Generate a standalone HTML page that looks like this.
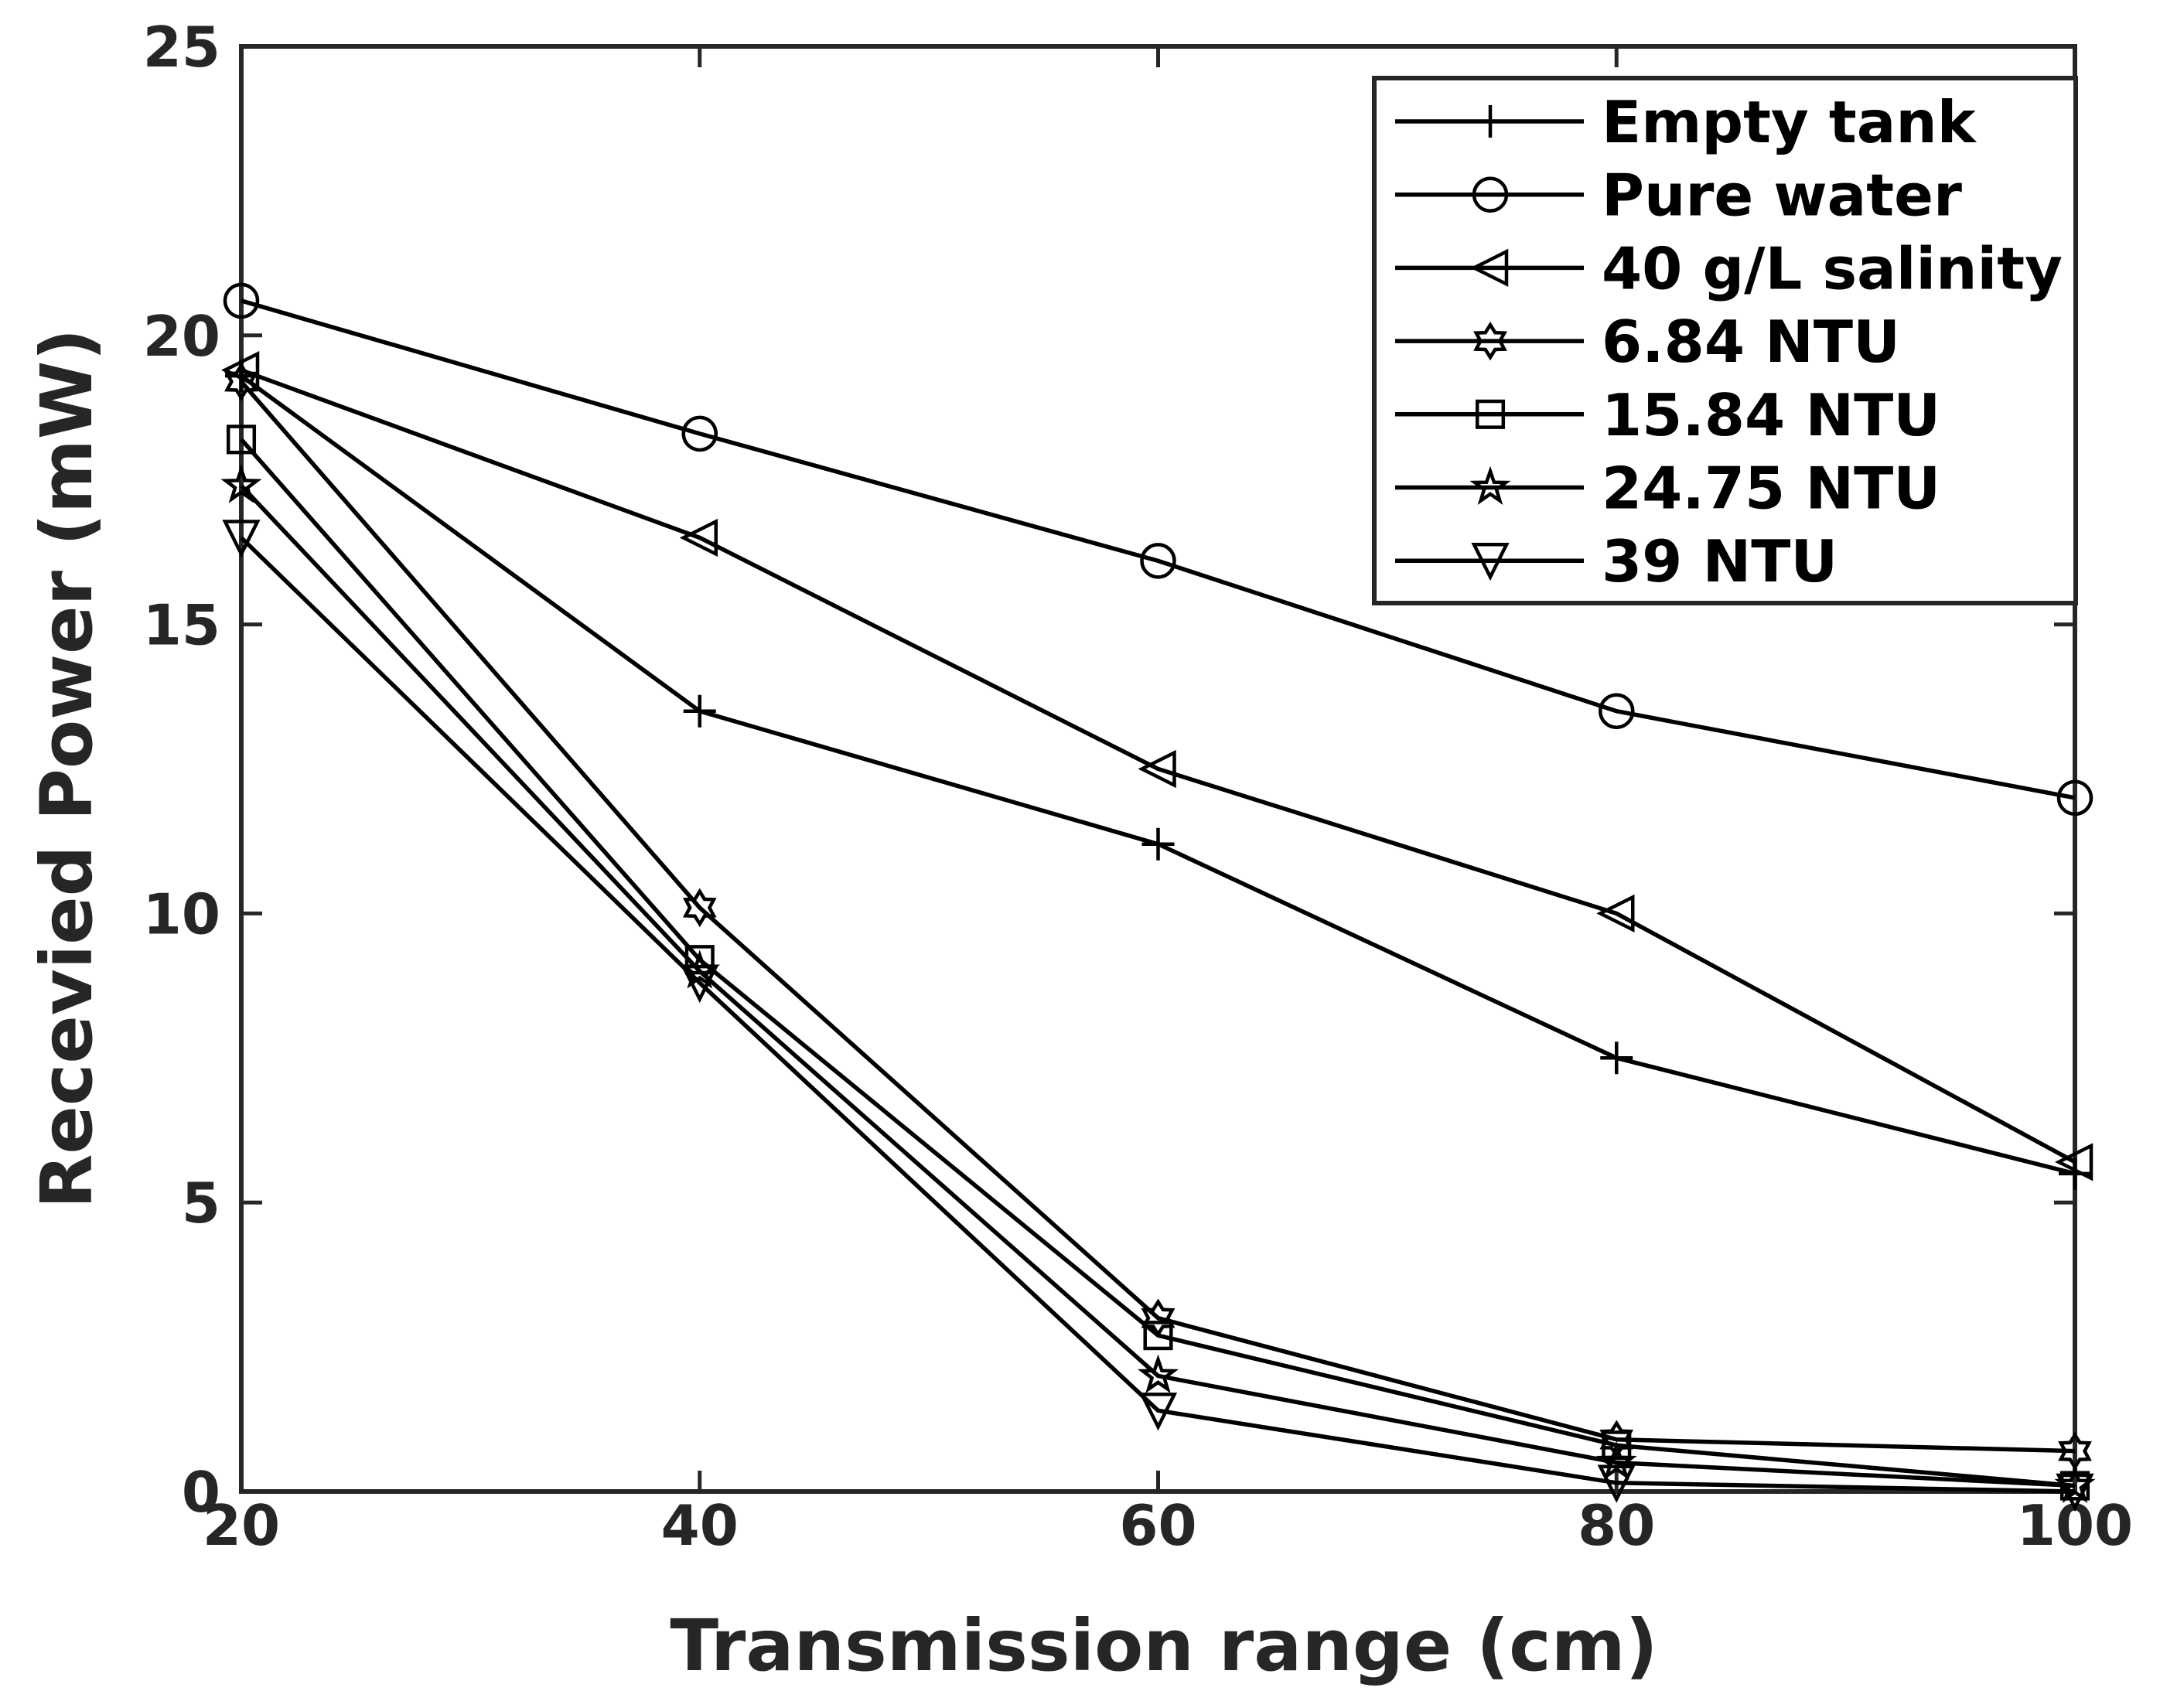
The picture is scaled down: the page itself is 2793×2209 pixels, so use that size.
<!DOCTYPE html>
<html><head><meta charset="utf-8"><style>
html,body{margin:0;padding:0;background:#fff}
svg text{font-family:"DejaVu Sans","Liberation Sans",sans-serif;font-weight:bold;fill:#262626}
</style></head><body>
<svg id="chart" xmlns="http://www.w3.org/2000/svg" width="2793" height="2204" viewBox="0 0 2793 2204">
<rect width="2793" height="2204" fill="#fff"/>
<g id="plot"></g>
</svg>
<script>
const xCats=[20,40,60,80,100];
const xTicks=[20,40,60,80,100];
const yTicks=[0,5,10,15,20,25];
const emptyTank=[19.3,13.5,11.2,7.5,5.5];
const pureWater=[20.6,18.3,16.1,13.5,12.0];
const salinity40=[19.4,16.5,12.5,10.0,5.7];
const ntu684=[19.2,10.1,3.0,0.9,0.7];
const ntu1584=[18.2,9.2,2.7,0.8,0.1];
const ntu2475=[17.4,9.0,2.0,0.5,0.1];
const ntu39=[16.5,8.8,1.4,0.15,0.0];
const seriesNames=["Empty tank","Pure water","40 g/L salinity","6.84 NTU","15.84 NTU","24.75 NTU","39 NTU"];
const seriesVals=[emptyTank,pureWater,salinity40,ntu684,ntu1584,ntu2475,ntu39];
const markers=["plus","circle","triLeft","hexStar","square","star","triDown"];

const L=312,R=2683,T=60,B=1929;
const xs=v=>L+(v-20)/(100-20)*(R-L);
const ys=v=>B-(v-0)/(25-0)*(B-T);
const NS="http://www.w3.org/2000/svg";
const g=document.getElementById('plot');
function mk(tag,attrs,parent){const e=document.createElementNS(NS,tag);for(const k in attrs)e.setAttribute(k,attrs[k]);(parent||g).appendChild(e);return e;}

function marker(type,x,y,parent){
  const s=21;let e;
  const st={fill:"none",stroke:"#000","stroke-width":4.5};
  if(type==="plus"){e=mk('path',Object.assign({d:`M${x-s} ${y}H${x+s}M${x} ${y-s}V${y+s}`},st),parent);}
  else if(type==="circle"){e=mk('circle',Object.assign({cx:x,cy:y,r:s},st),parent);}
  else if(type==="triLeft"){e=mk('path',Object.assign({d:`M${x-s} ${y}L${x+s} ${y-s}L${x+s} ${y+s}Z`},st),parent);}
  else if(type==="triDown"){e=mk('path',Object.assign({d:`M${x-s} ${y-s}L${x+s} ${y-s}L${x} ${y+s}Z`},st),parent);}
  else if(type==="square"){e=mk('rect',Object.assign({x:x-s*0.8,y:y-s*0.8,width:s*1.6,height:s*1.6},st),parent);}
  else {const n=type==="star"?5:6;const ro=s,ri=type==="star"?s*0.4:s*0.6;let d="";
    for(let i=0;i<2*n;i++){const r=i%2?ri:ro;const a=-Math.PI/2+i*Math.PI/n;d+=(i?"L":"M")+(x+r*Math.cos(a)).toFixed(1)+" "+(y+r*Math.sin(a)).toFixed(1);}
    e=mk('path',Object.assign({d:d+"Z"},st),parent);}
  return e;
}

const box=mk('rect',{x:L,y:T,width:R-L,height:B-T,fill:"none",stroke:"#262626","stroke-width":6});


xTicks.forEach(v=>{
  const t=mk('path',{d:`M${xs(v)} ${B}V${B-27}M${xs(v)} ${T}V${T+27}`,stroke:"#262626","stroke-width":5});
  
  
  const lb=mk('text',{x:xs(v),y:1998,"text-anchor":"middle","font-size":72});
  lb.textContent=v;
  
  
});
yTicks.forEach(v=>{
  const t=mk('path',{d:`M${L} ${ys(v)}H${L+27}M${R} ${ys(v)}H${R-27}`,stroke:"#262626","stroke-width":5});
  
  
  const lb=mk('text',{x:285,y:ys(v)+26,"text-anchor":"end","font-size":72});
  lb.textContent=v;
  
  
});
const xt=mk('text',{x:1505,y:2160,"text-anchor":"middle","font-size":92});
xt.textContent="Transmission range (cm)";


const yt=mk('text',{x:0,y:0,"text-anchor":"middle","font-size":92,transform:"translate(118 994) rotate(-90)"});
yt.textContent="Recevied Power (mW)";



seriesVals.forEach((vals,i)=>{
  const sg=mk('g',{});
  
  
  const pts=vals.map((v,j)=>xs(xCats[j])+","+ys(v)).join(" ");
  const pl=mk('polyline',{points:pts,fill:"none",stroke:"#000","stroke-width":5.5},sg);
  
  
  vals.forEach((v,j)=>{
    const m=marker(markers[i],xs(xCats[j]),ys(v),sg);
    
    
  });
});

const lg=mk('g',{});


const lr=mk('rect',{x:1777,y:101,width:907,height:679,fill:"#fff",stroke:"#262626","stroke-width":6},lg);


seriesNames.forEach((n,i)=>{
  const y=157+i*94.7;
  const eg=mk('g',{},lg);
  
  
  mk('path',{d:`M1804 ${y}H2048`,stroke:"#000","stroke-width":5.5},eg);
  marker(markers[i],1927,y,eg);
  const t=mk('text',{x:2071,y:y+27,"font-size":75,style:"fill:#000"},eg);
  t.textContent=n;
});
</script>
</body></html>
